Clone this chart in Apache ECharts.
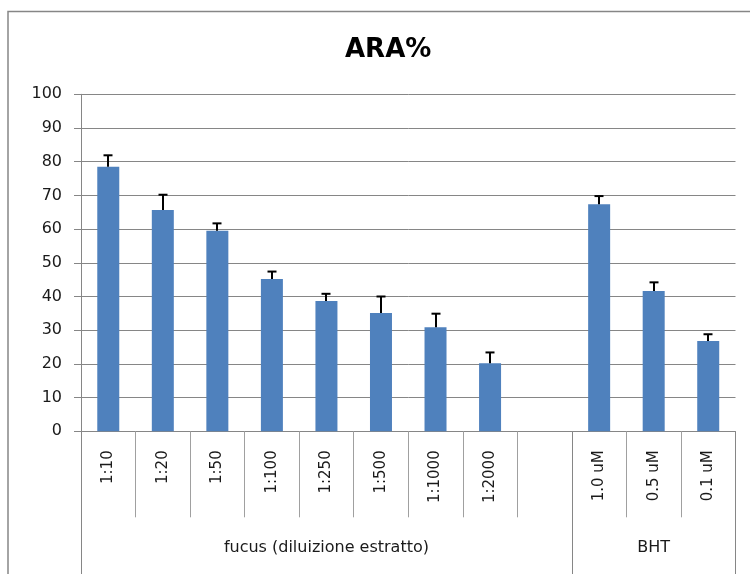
<!DOCTYPE html>
<html>
<head>
<meta charset="utf-8">
<script src="https://cdn.jsdelivr.net/npm/echarts@6/dist/echarts.min.js"></script>
<style>html,body{margin:0;padding:0;background:#fff}#c{width:750px;height:574px}</style>
</head>
<body>
<div id="c"></div>
<script>
const title = 'ARA%';
const categories = ['1:10','1:20','1:50','1:100','1:250','1:500','1:1000','1:2000','','1.0 uM','0.5 uM','0.1 uM'];
const values = [78.5, 65.7, 59.5, 45.2, 38.7, 35.1, 30.9, 20.2, null, 67.4, 41.6, 26.8];
const errors = [3.4, 4.5, 2.2, 2.2, 2.1, 4.9, 4.0, 3.2, null, 2.4, 2.6, 2.0];
const groups = ['fucus (diluizione estratto)', 'BHT'];
const groupSizes = [9, 3];
const yTicks = [0,10,20,30,40,50,60,70,80,90,100];

const groupBounds = [0];
groupSizes.forEach(s => groupBounds.push(groupBounds[groupBounds.length-1] + s));
const groupCenters = groupSizes.map((s,i) => groupBounds[i] + s/2);

const errData = [];
values.forEach((v,i) => { if (v != null) errData.push([i, v, errors[i]]); });

const chart = echarts.init(document.getElementById('c'), null, {renderer:'canvas'});
const gray = '#868686';
chart.setOption({
  animation: false,
  backgroundColor: '#fff',
  title: {
    text: title, left: 340, top: 32,
    textStyle: {fontFamily: 'DejaVu Sans', fontSize: 26, fontWeight: 'bold', color: '#000'}
  },
  graphic: [{
    type: 'rect', shape: {x: 8, y: 11.5, width: 800, height: 700},
    style: {fill: 'none', stroke: gray, lineWidth: 1.5}, silent: true
  }],
  grid: {left: 81, right: 14.5, top: 94.3, bottom: 142.7, containLabel: false},
  xAxis: [{
    type: 'category', data: categories, boundaryGap: true,
    axisLine: {show: true, lineStyle: {color: gray, width: 1}},
    axisTick: {show: true, interval: 0, length: 86, lineStyle: {color: '#a0a0a0'}},
    axisLabel: {interval: 0, rotate: 90, margin: 19, fontFamily: 'DejaVu Sans', fontSize: 15, color: '#1a1a1a'},
    splitLine: {show: false}
  }, {
    type: 'value', min: 0, max: categories.length, position: 'bottom', offset: 0,
    axisLine: {show: false},
    axisTick: {show: true, customValues: groupBounds, length: 143, lineStyle: {color: gray}},
    axisLabel: {customValues: groupCenters, margin: 109, fontFamily: 'DejaVu Sans', fontSize: 16, color: '#1a1a1a',
      formatter: v => { const i = groupCenters.indexOf(v); return i >= 0 ? groups[i] : ''; }},
    splitLine: {show: false}
  }],
  yAxis: {
    type: 'value', min: yTicks[0], max: yTicks[yTicks.length-1], interval: 10,
    axisLine: {show: true, lineStyle: {color: gray}},
    axisTick: {show: true, inside: false, length: 7, lineStyle: {color: gray}},
    axisLabel: {margin: 19, fontFamily: 'DejaVu Sans', fontSize: 16, color: '#1a1a1a'},
    splitLine: {show: true, lineStyle: {color: gray, width: 1}}
  },
  series: [{
    type: 'bar', data: values, xAxisIndex: 0, barWidth: 22,
    itemStyle: {color: '#4F81BD'}
  }, {
    type: 'custom', xAxisIndex: 0, data: errData, z: 5,
    renderItem: (params, api) => {
      const base = api.coord([api.value(0), api.value(1)]);
      const top = api.coord([api.value(0), api.value(1) + api.value(2)]);
      const x = Math.round(base[0]);
      return {type: 'group', children: [
        {type: 'line', shape: {x1: x, y1: base[1], x2: x, y2: top[1]}, style: {stroke: '#000', lineWidth: 2}},
        {type: 'line', shape: {x1: x - 4.5, y1: top[1], x2: x + 4.5, y2: top[1]}, style: {stroke: '#000', lineWidth: 2}}
      ]};
    }
  }]
});
</script>
</body>
</html>
